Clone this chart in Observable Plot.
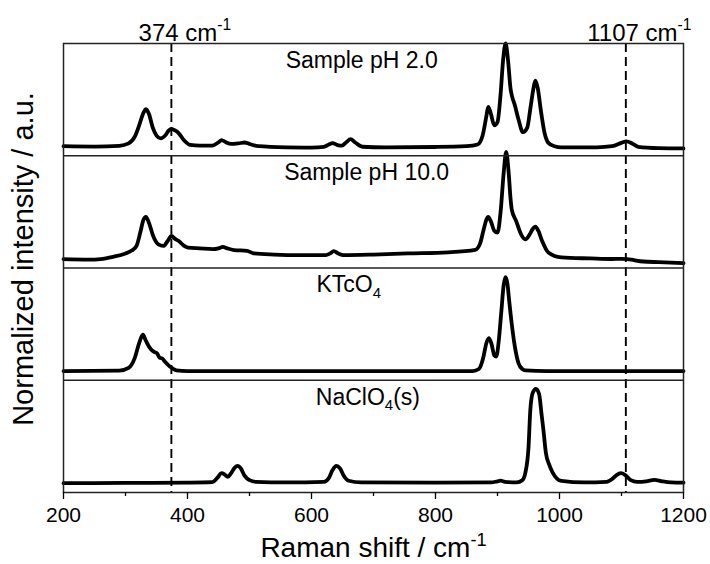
<!DOCTYPE html>
<html>
<head>
<meta charset="utf-8">
<script src="https://cdn.jsdelivr.net/npm/d3@7"></script>
<script src="https://cdn.jsdelivr.net/npm/@observablehq/plot@0.6"></script>
<style>
  html, body { margin: 0; padding: 0; background: #fff; }
  #chart { width: 710px; height: 564px; }
</style>
</head>
<body>
<div id="chart"></div>
<script>
// ---------- data ----------
const majorTicks = [200, 400, 600, 800, 1000, 1200];
const minorTicks = [300, 500, 700, 900, 1100];
const markerShifts = [374, 1107];
const markerLabels = ["374 cm^{-1}", "1107 cm^{-1}"];
const panelNames = ["NaClO_{4}(s)", "KTcO_{4}", "Sample pH 10.0", "Sample pH 2.0"];
const panelLabelShift = [691, 660, 689, 681];
const xTitle = "Raman shift / cm^{-1}";
const yTitle = "Normalized intensity / a.u.";

// Sample pH 2.0 (top panel)
const shiftPH2 = [200,250,290,305,315,322,328,333,338,344,350,357,364,370,374,380,386,394,404,420,440,450,455,462,470,482,492,500,514,560,600,620,628,634,642,649,656,663,670,682,720,800,850,868,876,882,885,889,895,900,905,909,913,917,921,923,928,934,941,948,953,958,961,965,970,976,982,992,1003,1060,1085,1100,1108,1117,1127,1160,1200];
const intPH2   = [0.085,0.082,0.088,0.11,0.17,0.27,0.37,0.415,0.37,0.25,0.18,0.155,0.18,0.225,0.24,0.225,0.2,0.14,0.097,0.09,0.09,0.12,0.14,0.12,0.105,0.11,0.118,0.105,0.085,0.075,0.073,0.08,0.1,0.112,0.095,0.09,0.12,0.148,0.12,0.08,0.075,0.078,0.085,0.1,0.18,0.35,0.435,0.38,0.27,0.3,0.55,0.85,1.0,0.85,0.6,0.54,0.45,0.32,0.21,0.25,0.42,0.6,0.67,0.6,0.4,0.2,0.115,0.085,0.075,0.075,0.085,0.115,0.128,0.11,0.08,0.068,0.065];

// Sample pH 10.0
const shiftPH10 = [200,240,260,280,300,310,318,324,329,333,338,345,353,361,368,374,380,386,394,401,420,441,450,457,464,475,496,507,540,580,623,630,636,643,652,700,755,820,864,872,878,882,885,889,895,900,905,910,914,918,921,923,930,938,945,952,957,961,966,972,982,1003,1050,1084,1100,1109,1120,1135,1160,1200];
const intPH10   = [0.079,0.075,0.08,0.1,0.13,0.155,0.2,0.32,0.43,0.456,0.4,0.28,0.21,0.197,0.24,0.285,0.26,0.24,0.2,0.182,0.175,0.168,0.175,0.188,0.175,0.16,0.153,0.13,0.12,0.115,0.115,0.13,0.15,0.13,0.115,0.12,0.13,0.14,0.162,0.22,0.35,0.43,0.456,0.42,0.33,0.315,0.5,0.85,1.035,0.85,0.62,0.52,0.42,0.3,0.256,0.3,0.35,0.368,0.33,0.24,0.138,0.094,0.085,0.08,0.082,0.08,0.07,0.058,0.052,0.044];

// KTcO4
const shiftKTc = [200,290,305,315,322,328,333,339,344,347,351,355,359,363,372,382,400,860,870,877,882,886,890,895,898,902,906,910,913,916,919,923,928,934,940,945,980,1200];
const intKTc   = [0.082,0.085,0.11,0.2,0.33,0.406,0.35,0.29,0.26,0.25,0.24,0.2,0.195,0.17,0.12,0.088,0.082,0.082,0.1,0.2,0.33,0.376,0.33,0.22,0.21,0.35,0.6,0.85,0.918,0.86,0.7,0.5,0.3,0.15,0.1,0.088,0.082,0.082];

// NaClO4(s) (bottom panel)
const shiftNaCl = [200,300,400,440,448,455,460,465,470,476,481,486,492,500,510,560,620,628,634,640,646,652,660,680,800,890,900,905,912,931,940,945,950,953,957,962,967,971,974,978,984,989,1003,1040,1076,1085,1092,1099,1106,1115,1125,1140,1153,1165,1180,1200];
const intNaCl   = [0.083,0.085,0.088,0.092,0.13,0.172,0.16,0.14,0.17,0.22,0.237,0.215,0.15,0.11,0.095,0.09,0.095,0.13,0.2,0.237,0.215,0.15,0.105,0.09,0.088,0.09,0.1,0.105,0.095,0.09,0.11,0.178,0.4,0.74,0.89,0.923,0.88,0.7,0.56,0.355,0.24,0.178,0.104,0.09,0.095,0.12,0.155,0.172,0.155,0.11,0.095,0.1,0.112,0.1,0.09,0.088];

// ---------- build ----------
const series = [
  {panel: 0, shift: shiftNaCl, val: intNaCl},
  {panel: 1, shift: shiftKTc, val: intKTc},
  {panel: 2, shift: shiftPH10, val: intPH10},
  {panel: 3, shift: shiftPH2, val: intPH2}
];
const rows = series.flatMap(s => s.shift.map((x, i) => ({panel: s.panel, shift: x, y: s.val[i] + s.panel})));
const labels = panelNames.map((name, i) => ({name, panel: i, shift: panelLabelShift[i]}));
const markers = markerShifts.map((s, i) => ({shift: s, label: markerLabels[i]}));

const FONT = "'Liberation Sans', Arial, Helvetica, sans-serif";

const chart = Plot.plot({
  width: 710,
  height: 564,
  marginTop: 43,
  marginLeft: 63,
  marginRight: 27,
  marginBottom: 72,
  style: {fontFamily: FONT, background: "#fff", color: "#000", overflow: "visible"},
  x: {domain: [200, 1200]},
  y: {domain: [0, 4], axis: null},
  marks: [
    Plot.ruleX(markers, {x: "shift", stroke: "#000", strokeWidth: 1.9, strokeDasharray: "9,5"}),
    Plot.line(rows, {x: "shift", y: "y", z: "panel", stroke: "#000", strokeWidth: 3.8, curve: "monotone-x", strokeLinejoin: "round"}),
    Plot.ruleY([1, 2, 3], {stroke: "#222", strokeWidth: 1.3}),
    Plot.frame({stroke: "#222", strokeWidth: 1.5}),
    Plot.axisX({ticks: majorTicks, tickSize: 7, tickPadding: 8, fontSize: 21, label: null, strokeWidth: 1.3, tickFormat: d => String(d)}),
    Plot.axisX({ticks: minorTicks, tickSize: 4, tickFormat: () => "", label: null, strokeWidth: 1.3}),
    Plot.text(labels, {x: "shift", y: d => d.panel + 1, text: "name", dy: 17, lineAnchor: "middle", fontSize: 23}),
    Plot.text(markers, {x: "shift", frameAnchor: "top", text: "label", dx: 13.5, dy: -3, lineAnchor: "bottom", textAnchor: "middle", fontSize: 24}),
    Plot.text([xTitle], {frameAnchor: "bottom", text: d => d, dy: 56, lineAnchor: "middle", textAnchor: "middle", fontSize: 28}),
    Plot.text([yTitle], {frameAnchor: "left", text: d => d, rotate: -90, dx: -39.5, dy: -9, lineAnchor: "middle", textAnchor: "middle", fontSize: 29})
  ]
});

document.getElementById("chart").appendChild(chart);

// rich text: ^{..} superscript, _{..} subscript
(function richify(svg) {
  const NS = "http://www.w3.org/2000/svg";
  svg.querySelectorAll("text").forEach(t => {
    const s = t.textContent;
    if (!/[\^_]\{/.test(s)) return;
    const fs = parseFloat(getComputedStyle(t).fontSize) || 20;
    t.textContent = "";
    const re = /([\^_])\{([^}]*)\}/g;
    let last = 0, m, shift = 0;
    const add = (str, kind) => {
      const ts = document.createElementNS(NS, "tspan");
      ts.textContent = str;
      const target = kind === "^" ? -0.42 * fs : kind === "_" ? 0.24 * fs : 0;
      if (target !== shift) { ts.setAttribute("dy", (target - shift).toFixed(2)); shift = target; }
      if (kind) ts.setAttribute("font-size", (0.65 * fs).toFixed(2));
      t.appendChild(ts);
    };
    while ((m = re.exec(s))) {
      if (m.index > last) add(s.slice(last, m.index), null);
      add(m[2], m[1]);
      last = re.lastIndex;
    }
    if (last < s.length) add(s.slice(last), null);
  });
})(chart);
</script>
</body>
</html>
